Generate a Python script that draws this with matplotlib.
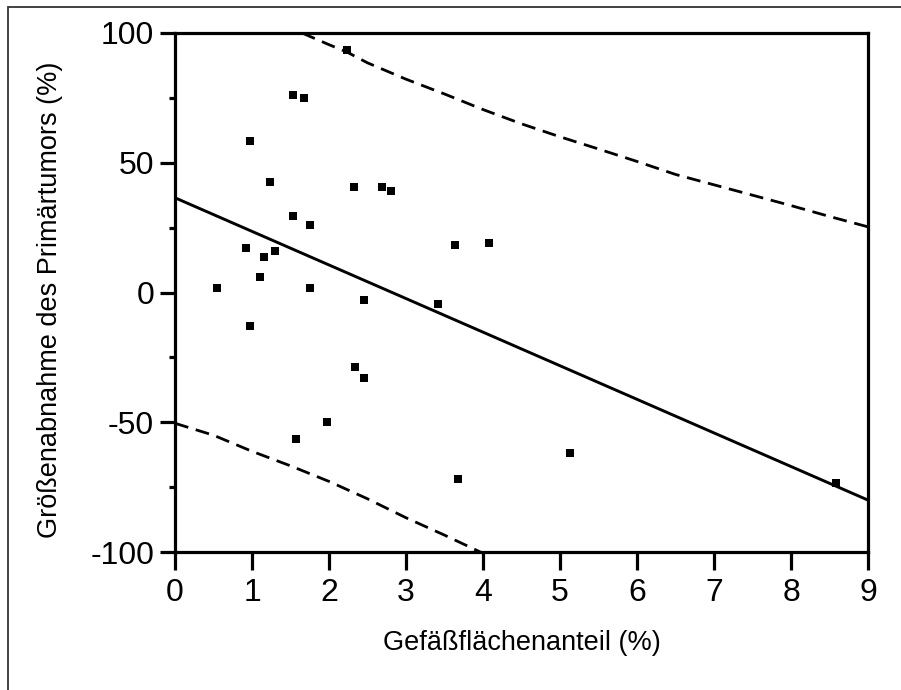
import matplotlib
matplotlib.use('Agg')
import matplotlib.pyplot as plt
from matplotlib.patches import Rectangle
from matplotlib.ticker import MultipleLocator

plt.rcParams['font.family'] = ['Liberation Sans', 'DejaVu Sans']
plt.rcParams['axes.unicode_minus'] = False

# data points
gefaess = [2.23, 1.53, 1.67, 0.97, 1.23, 2.32, 2.69, 2.81, 1.53, 1.75,
           0.92, 1.30, 1.16, 3.63, 4.08, 1.11, 0.55, 1.75,
           2.46, 3.41, 0.97, 2.34, 2.46, 1.97, 1.57, 3.67,
           5.13, 8.59]
abnahme = [93.4, 76.1, 75.1, 58.5, 42.6, 40.5, 40.5, 39.1, 29.5, 26.0,
           17.0, 16.1, 13.6, 18.4, 19.2, 6.0, 1.8, 1.8,
           -2.9, -4.4, -12.9, -28.6, -32.9, -49.8, -56.6, -72.0,
           -62.0, -73.3]

# regression line end points
reg_x = [0, 9]
reg_y = [36.5, -80.0]

# upper / lower prediction band, read at these x positions
upper_x = [1.65, 2.0, 2.23, 2.5, 3.0, 3.5, 4.0, 4.5, 5.0, 5.5, 6.0, 6.5, 7.0, 7.5, 8.0, 8.5, 9.0]
upper_y = [100, 95.5, 92.7, 88.5, 82.2, 76.5, 70.5, 65, 60, 55.3, 50.5, 45.5, 41.5, 37.5, 33.5, 29.3, 25.3]
lower_x = [0, 0.5, 1.0, 1.5, 2.0, 2.5, 3.0, 3.5, 4.0]
lower_y = [-50.4, -55, -61.2, -66.8, -72.8, -79.5, -86.8, -93.5, -100.5]

fig = plt.figure(figsize=(9.01, 6.90), dpi=100)
ax = fig.add_axes([175/901, 1-552/690, 693/901, 519/690])

# outer frame (only top and left edge visible)
fig.patches.append(Rectangle((8/901, -0.2), 1.5, 0.2 + 1-7/690, transform=fig.transFigure,
                             fill=False, edgecolor='#333333', linewidth=1.3))

ax.plot(gefaess, abnahme, 's', color='black', markersize=5.2, markeredgewidth=0)
ax.plot(reg_x, reg_y, color='black', linewidth=2.1, solid_capstyle='butt')
ax.plot(upper_x, upper_y, color='black', linewidth=2.0, dashes=(5, 2.8))
ax.plot(lower_x, lower_y, color='black', linewidth=2.0, dashes=(5, 2.8))

ax.set_xlim(0, 9)
ax.set_ylim(-100, 100)
ax.set_xticks(range(0, 10))
ax.set_yticks([-100, -50, 0, 50, 100])
ax.yaxis.set_minor_locator(MultipleLocator(25))

for s in ax.spines.values():
    s.set_linewidth(2.3)
ax.tick_params(axis='x', which='major', length=13, width=2.3, pad=6, labelsize=23, direction='out')
ax.tick_params(axis='y', which='major', length=11, width=2.3, pad=4, labelsize=23, direction='out')
ax.tick_params(axis='y', which='minor', length=4, width=2.3, direction='out')

ax.set_xlabel('Gefäßflächenanteil (%)', fontsize=19.5)
ax.set_ylabel('Größenabnahme des Primärtumors (%)', fontsize=19.5)
ax.xaxis.set_label_coords(0.5, (552-643)/519)
ax.xaxis.label.set_va('center')
ax.yaxis.set_label_coords((50-175)/693, (552-300)/519)
ax.yaxis.label.set_va('center')

fig.savefig('out.png', dpi=100)
